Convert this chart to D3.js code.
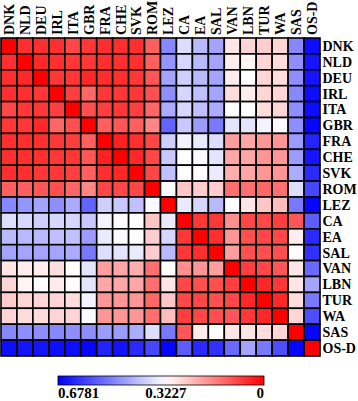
<!DOCTYPE html>
<html><head><meta charset="utf-8">
<script src="https://cdn.jsdelivr.net/npm/d3@7"></script>
<style>
html,body{margin:0;padding:0;background:#fff;}
svg{display:block;}
text{font-family:"Liberation Serif","Times New Roman",serif;font-weight:bold;fill:#000;}
</style></head>
<body>
<svg id="chart" width="358" height="401"></svg>
<script>
const labels = ["DNK","NLD","DEU","IRL","ITA","GBR","FRA","CHE","SVK","ROM","LEZ","CA","EA","SAL","VAN","LBN","TUR","WA","SAS","OS-D"];
const rowDNK = [0.00,0.06,0.06,0.06,0.09,0.07,0.06,0.06,0.06,0.12,0.49,0.37,0.42,0.45,0.29,0.27,0.26,0.27,0.49,0.66];
const rowNLD = [0.06,0.00,0.05,0.06,0.07,0.07,0.06,0.06,0.06,0.12,0.47,0.38,0.42,0.45,0.30,0.31,0.27,0.28,0.48,0.65];
const rowDEU = [0.06,0.05,0.00,0.07,0.07,0.05,0.06,0.06,0.07,0.11,0.45,0.39,0.42,0.45,0.30,0.32,0.27,0.28,0.48,0.65];
const rowIRL = [0.06,0.06,0.07,0.00,0.08,0.13,0.07,0.07,0.07,0.10,0.48,0.38,0.41,0.45,0.28,0.30,0.27,0.27,0.49,0.66];
const rowITA = [0.09,0.07,0.07,0.08,0.00,0.10,0.08,0.07,0.08,0.13,0.44,0.38,0.41,0.44,0.32,0.32,0.28,0.27,0.48,0.66];
const rowGBR = [0.07,0.07,0.05,0.13,0.10,0.00,0.12,0.11,0.12,0.17,0.54,0.40,0.46,0.51,0.36,0.36,0.34,0.33,0.48,0.67];
const rowFRA = [0.06,0.06,0.06,0.07,0.08,0.12,0.00,0.04,0.06,0.09,0.39,0.34,0.35,0.37,0.20,0.21,0.19,0.19,0.46,0.63];
const rowCHE = [0.06,0.06,0.06,0.07,0.07,0.11,0.04,0.00,0.05,0.09,0.40,0.32,0.33,0.36,0.21,0.21,0.19,0.19,0.46,0.65];
const rowSVK = [0.06,0.06,0.07,0.07,0.08,0.12,0.06,0.05,0.00,0.09,0.41,0.32,0.32,0.35,0.22,0.21,0.19,0.19,0.44,0.62];
const rowROM = [0.12,0.12,0.11,0.10,0.13,0.17,0.09,0.09,0.09,0.00,0.33,0.25,0.26,0.26,0.14,0.14,0.13,0.14,0.37,0.58];
const rowLEZ = [0.49,0.47,0.45,0.48,0.44,0.54,0.39,0.40,0.41,0.33,0.00,0.35,0.38,0.42,0.32,0.29,0.25,0.24,0.51,0.67];
const rowCA  = [0.37,0.38,0.39,0.38,0.38,0.40,0.34,0.32,0.32,0.25,0.35,0.00,0.07,0.07,0.18,0.09,0.09,0.08,0.11,0.55];
const rowEA  = [0.42,0.42,0.42,0.41,0.41,0.46,0.35,0.33,0.32,0.26,0.38,0.07,0.00,0.06,0.19,0.10,0.09,0.09,0.30,0.62];
const rowSAL = [0.45,0.45,0.45,0.45,0.44,0.51,0.37,0.36,0.35,0.26,0.42,0.07,0.06,0.00,0.20,0.10,0.10,0.10,0.32,0.61];
const rowVAN = [0.29,0.30,0.30,0.28,0.32,0.36,0.20,0.21,0.22,0.14,0.32,0.18,0.19,0.20,0.00,0.08,0.09,0.11,0.29,0.53];
const rowLBN = [0.27,0.31,0.32,0.30,0.32,0.36,0.21,0.21,0.21,0.14,0.29,0.09,0.10,0.10,0.08,0.00,0.05,0.07,0.29,0.45];
const rowTUR = [0.26,0.27,0.27,0.27,0.28,0.34,0.19,0.19,0.19,0.13,0.25,0.09,0.09,0.10,0.09,0.05,0.00,0.05,0.28,0.51];
const rowWA  = [0.27,0.28,0.28,0.27,0.27,0.33,0.19,0.19,0.19,0.14,0.24,0.08,0.09,0.10,0.11,0.07,0.05,0.00,0.27,0.57];
const rowSAS = [0.49,0.48,0.48,0.49,0.48,0.48,0.46,0.46,0.44,0.37,0.51,0.11,0.30,0.32,0.29,0.29,0.28,0.27,0.00,0.67];
const rowOSD = [0.66,0.65,0.65,0.66,0.66,0.67,0.63,0.65,0.62,0.58,0.67,0.55,0.62,0.61,0.53,0.45,0.51,0.57,0.67,0.00];
const matrix = [rowDNK,rowNLD,rowDEU,rowIRL,rowITA,rowGBR,rowFRA,rowCHE,rowSVK,rowROM,rowLEZ,rowCA,rowEA,rowSAL,rowVAN,rowLBN,rowTUR,rowWA,rowSAS,rowOSD];
const scaleStops = [0.6781, 0.3227, 0];
const scaleLabels = ["0.6781", "0.3227", "0"];

const svg = d3.select("#chart");
const gx0 = 1, gx1 = 320, gy0 = 38, gy1 = 356;
const x = d3.scaleBand().domain(labels).range([gx0, gx1]);
const y = d3.scaleBand().domain(labels).range([gy0, gy1]);
const color = d3.scaleLinear().domain([0, 0.3227, 0.6781]).range(["#ff0000", "#ffffff", "#0000ff"]).clamp(true);

const cells = [];
matrix.forEach((row, i) => row.forEach((v, j) => cells.push({r: labels[i], c: labels[j], v})));

svg.append("g").selectAll("rect").data(cells).join("rect")
  .attr("x", d => x(d.c)).attr("y", d => y(d.r))
  .attr("width", x.bandwidth()).attr("height", y.bandwidth())
  .attr("fill", d => color(d.v))
  .attr("stroke", "#000").attr("stroke-width", 1.6);

svg.append("g").selectAll("text").data(labels).join("text")
  .attr("transform", d => `translate(${x(d) + x.bandwidth()/2},${gy0 - 3}) rotate(-90)`)
  .attr("dy", "0.35em").attr("text-anchor", "start")
  .attr("font-size", 14).text(d => d);

svg.append("g").selectAll("text").data(labels).join("text")
  .attr("x", gx1 + 2.5).attr("y", d => y(d) + y.bandwidth()/2)
  .attr("dy", "0.35em").attr("text-anchor", "start")
  .attr("font-size", 14).text(d => d);

// colorbar
const cb = d3.scaleLinear().domain([0.6781, 0]).range([58, 264]);
const defs = svg.append("defs");
const grad = defs.append("linearGradient").attr("id", "cbgrad").attr("x1", "0%").attr("x2", "100%");
d3.range(0, 1.0001, 0.05).forEach(t => {
  const v = 0.6781 * (1 - t);
  grad.append("stop").attr("offset", (t*100) + "%").attr("stop-color", color(v));
});
svg.append("rect").attr("x", cb(0.6781)).attr("y", 376).attr("width", cb(0) - cb(0.6781)).attr("height", 9)
  .attr("fill", "url(#cbgrad)").attr("stroke", "#000").attr("stroke-width", 0.8);
svg.append("g").selectAll("text").data(scaleStops).join("text")
  .attr("x", d => cb(d)).attr("y", 398)
  .attr("text-anchor", (d, i) => i === 0 ? "start" : (i === scaleStops.length - 1 ? "end" : "middle"))
  .attr("font-size", 15).text((d, i) => scaleLabels[i]);
</script>
</body></html>
